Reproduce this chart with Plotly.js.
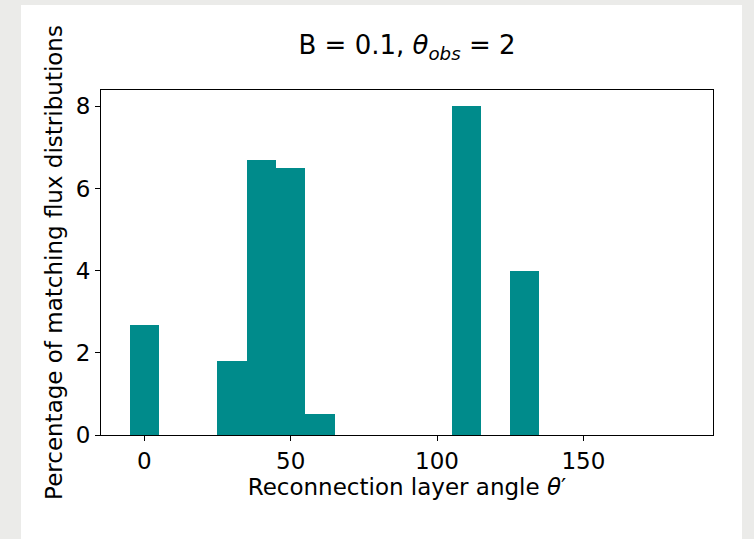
<!DOCTYPE html>
<html>
<head>
<meta charset="utf-8">
<script src="https://cdn.plot.ly/plotly-3.0.1.min.js"></script>
<style>
  html, body { margin: 0; padding: 0; background: #ebebe9; }
  #panel { position: absolute; left: 21px; top: 5px; width: 721px; height: 534px; background: #ffffff; }
  #chart { position: absolute; left: 0; top: 0; width: 754px; height: 539px; }
</style>
</head>
<body>
<div id="panel"></div>
<div id="chart"></div>
<script>
// Histogram bin centres (bin width 10) and percentages
const binCenters = [0, 30, 40, 50, 60, 110, 130];
const percentages = [2.69, 1.81, 6.69, 6.5, 0.5, 8.0, 4.0];
const binWidth = 10;
const xTicks = [0, 50, 100, 150];
const yTicks = [0, 2, 4, 6, 8];

const font = 'DejaVu Sans, sans-serif';

const trace = {
  type: 'bar',
  x: binCenters,
  y: percentages,
  width: binCenters.map(() => binWidth),
  marker: { color: '#008b8b', line: { width: 0 } },
  hoverinfo: 'x+y'
};

const layout = {
  width: 754,
  height: 539,
  margin: { l: 101, r: 41, t: 90, b: 104, pad: 0 },
  paper_bgcolor: 'rgba(0,0,0,0)',
  plot_bgcolor: '#ffffff',
  showlegend: false,
  bargap: 0,
  title: {
    text: 'B = 0.1, <i>θ</i><sub><i>obs</i></sub> = 2',
    font: { family: font, size: 26, color: '#000' },
    x: 0.5, xref: 'paper', xanchor: 'center',
    y: 72, yref: 'container', yanchor: 'middle'
  },
  xaxis: {
    range: [-14.8, 194.3],
    tickmode: 'array',
    tickvals: xTicks,
    ticktext: xTicks.map(String),
    ticks: 'outside', ticklen: 5, tickwidth: 1, tickcolor: '#000',
    showline: true, linecolor: '#000', linewidth: 1, mirror: true,
    showgrid: false, zeroline: false,
    tickfont: { family: font, size: 23, color: '#000' },
    title: { text: 'Reconnection layer angle <i>θ</i>′', font: { family: font, size: 23, color: '#000' }, standoff: 4 }
  },
  yaxis: {
    range: [0, 8.4],
    tickmode: 'array',
    tickvals: yTicks,
    ticktext: yTicks.map(String),
    ticks: 'outside', ticklen: 5, tickwidth: 1, tickcolor: '#000',
    showline: true, linecolor: '#000', linewidth: 1, mirror: true,
    showgrid: false, zeroline: false,
    tickfont: { family: font, size: 23, color: '#000' },
    title: { text: 'Percentage of matching flux distributions', font: { family: font, size: 23, color: '#000' }, standoff: 6 }
  }
};

Plotly.newPlot('chart', [trace], layout, { displayModeBar: false, staticPlot: true });
</script>
</body>
</html>
